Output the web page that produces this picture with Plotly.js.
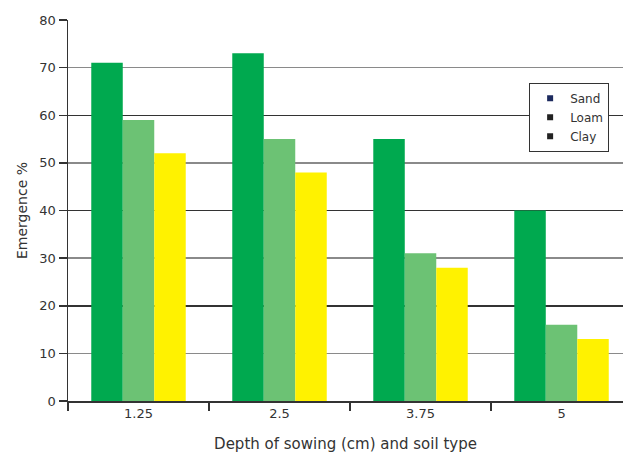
<!DOCTYPE html>
<html>
<head>
<meta charset="utf-8">
<script src="https://cdn.plot.ly/plotly-3.0.1.min.js"></script>
<style>html,body{margin:0;padding:0;background:#fff;}#chart{width:623px;height:457px;}</style>
</head>
<body>
<div id="chart"></div>
<script>
const categories = ["1.25", "2.5", "3.75", "5"];
const seriesNames = ["Sand", "Loam", "Clay"];
const sand = [71, 73, 55, 40];
const loam = [59, 55, 31, 16];
const clay = [52, 48, 28, 13];
const yTicks = [0, 10, 20, 30, 40, 50, 60, 70, 80];

const barColors = ["#00a94f", "#6cc274", "#fff200"];
const legendColors = ["#1c2a5e", "#222222", "#222222"];
const values = [sand, loam, clay];

const traces = [];
values.forEach((v, i) => {
  traces.push({
    type: "bar", x: categories, y: v, name: seriesNames[i],
    marker: {color: barColors[i], line: {width: 0}},
    showlegend: false, hoverinfo: "skip"
  });
});
seriesNames.forEach((n, i) => {
  traces.push({
    type: "scatter", mode: "markers", x: [null], y: [null], name: n,
    yaxis: "y2",
    marker: {symbol: "square", size: 6, color: legendColors[i]},
    showlegend: true
  });
});

const font = {family: "DejaVu Sans, sans-serif", size: 13, color: "#333"};

const layout = {
  width: 623, height: 457,
  margin: {l: 68, r: 0, t: 20, b: 56},
  paper_bgcolor: "#fff", plot_bgcolor: "#fff",
  font: font,
  barmode: "group", bargap: 0.33, bargroupgap: 0,
  xaxis: {
    type: "category", range: [-0.5, 3.436],
    showline: true, linecolor: "#333", linewidth: 1.5,
    ticks: "outside", tickson: "boundaries", ticklen: 8, tickcolor: "#333", tickwidth: 1.5,
    showgrid: false, zeroline: false,
    tickfont: {size: 13, color: "#333"},
    title: {text: "Depth of sowing (cm) and soil type", font: {size: 15, color: "#333"}, standoff: 18}
  },
  yaxis: {
    range: [0, 80], tickvals: yTicks, ticktext: yTicks.map(String),
    showline: true, linecolor: "#333", linewidth: 1.5,
    ticks: "outside", ticklen: 8, tickcolor: "#333", tickwidth: 1.5,
    showgrid: true, gridcolor: "#8a8a8a", gridwidth: 1.5,
    zeroline: false,
    tickfont: {size: 13, color: "#333"},
    title: {text: "Emergence %", font: {size: 14, color: "#333"}, standoff: 8}
  },
  yaxis2: {
    overlaying: "y", range: [0, 80], dtick: 20, tick0: 0,
    showticklabels: false, ticks: "", showline: false,
    showgrid: true, gridcolor: "#333", gridwidth: 1.5, zeroline: false
  },
  legend: {
    x: 0.975, xanchor: "right", y: 0.835, yanchor: "top",
    bgcolor: "#fff", bordercolor: "#333", borderwidth: 1,
    font: {size: 12, color: "#333"},
    tracegroupgap: 0, itemwidth: 30
  }
};

Plotly.newPlot("chart", traces, layout, {displayModeBar: false, staticPlot: true});
</script>
</body>
</html>
